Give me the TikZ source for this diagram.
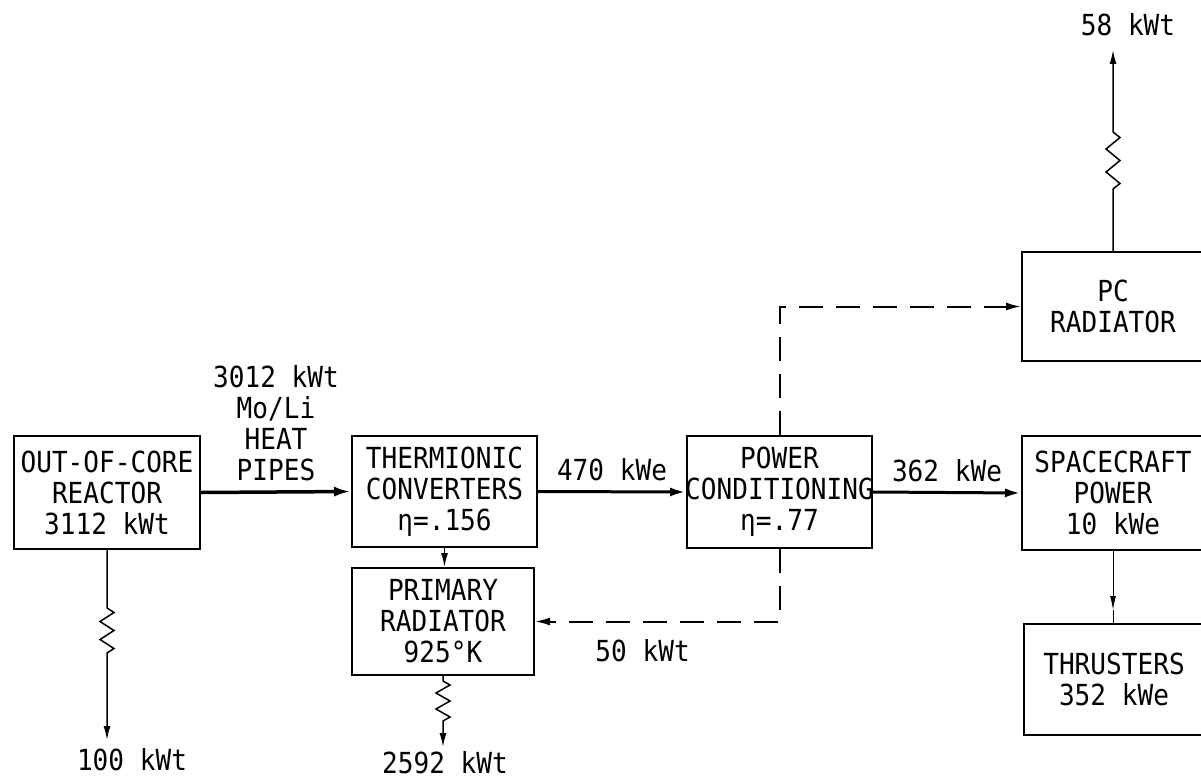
\documentclass[tikz,border=0pt]{standalone}
\usepackage{fontspec}
\newfontfamily\diagfontfamily[FakeStretch=0.9]{DejaVu Sans Mono}
\newcommand\diagfont{\diagfontfamily\fontsize{29}{31}\selectfont}
\usetikzlibrary{arrows.meta,calc}
\begin{document}
\begin{tikzpicture}[x=1pt,y=-1pt,
  blk/.style={draw,line width=2pt,inner sep=0pt,align=center,font=\diagfont},
  lbl/.style={font=\diagfont,inner sep=0pt},
  thickarrow/.style={line width=3.5pt,-{Latex[length=17pt,width=10pt]}},
  medarrow/.style={line width=3pt,-{Latex[length=16pt,width=9pt]}},
  thinarrow/.style={line width=1.5pt,-{Latex[length=14pt,width=7pt]}},
  dasharrow/.style={line width=2pt,dash pattern=on 24pt off 13pt,-{Latex[length=15pt,width=8pt]}}]
\useasboundingbox (0,0) rectangle (1201,781);
\clip (0,0) rectangle (1201,781);
% boxes
\node[blk,minimum width=186pt,minimum height=113pt] (reactor) at (107,492.5) {OUT-OF-CORE\\REACTOR\\3112 kWt};
\node[blk,minimum width=185pt,minimum height=111pt] (thermionic) at (444.5,491.5) {THERMIONIC\\CONVERTERS\\η=.156};
\node[blk,minimum width=182pt,minimum height=107pt] (primary) at (443,621.5) {PRIMARY\\RADIATOR\\925°K};
\node[blk,minimum width=185pt,minimum height=112pt] (powercond) at (779.5,492) {POWER\\\makebox[170pt]{CONDITIONING}\\η=.77};
\node[blk,minimum width=182pt,minimum height=114pt] (spacecraft) at (1113,493) {SPACECRAFT\\POWER\\10 kWe};
\node[blk,minimum width=182pt,minimum height=109pt] (pcrad) at (1113,306.5) {PC\\RADIATOR};
\node[blk,minimum width=180pt,minimum height=111pt] (thrusters) at (1114,679.5) {THRUSTERS\\352 kWe};
% free labels
\node[lbl,align=center] (hp) at (276,423) {3012 kWt\\Mo/Li\\HEAT\\PIPES};
\node[lbl] (l100) at (132,760) {100 kWt};
\node[lbl] (l2592) at (445,763) {2592 kWt};
\node[lbl] (l58) at (1128,25) {58 kWt};
% end coordinates
\coordinate (rEnd) at (107,740);
\coordinate (pEnd) at (443,747);
\coordinate (cEnd) at (1113,50);
\coordinate (tTip) at (1113,610);
% main flow
\draw[thickarrow] (reactor.east) -- (thermionic.west);
\draw[medarrow] (thermionic.east) -- node[above=9pt,lbl] {470 kWe} (powercond.west);
\draw[medarrow] (powercond.east) -- node[above=9pt,lbl] {362 kWe} (spacecraft.west);
\draw[thinarrow] (thermionic.south) -- (thermionic.south |- primary.north);
\draw[line width=1pt,-{Latex[length=14pt,width=6pt]}] (spacecraft.south) -- (tTip);
\draw[line width=1pt] (tTip) -- (spacecraft.south |- thrusters.north);
% dashed
\draw[dasharrow] (powercond.north) |- (pcrad.west);
\draw[dasharrow] (powercond.south) |- node[pos=0.78,below=17pt,lbl] {50 kWt} (primary.east);
% heat rejection with resistor symbols
\draw[thinarrow] (reactor.south) -- ++(0,58) -- ++(7,4.5) -- ++(-14,9) -- ++(14,9) -- ++(-14,9) -- ++(14,9) -- ++(-7,4.5) -- (rEnd);
\draw[thinarrow] (primary.south) -- ++(0,5) -- ++(7,4) -- ++(-14,8) -- ++(14,8) -- ++(-14,8) -- ++(14,8) -- ++(-7,4) -- (pEnd);
\draw[thinarrow] (pcrad.north) -- ++(0,-62) -- ++(7,-5.5) -- ++(-14,-11.5) -- ++(14,-11.5) -- ++(-14,-11.5) -- ++(14,-11.5) -- ++(-7,-5.5) -- (cEnd);
\end{tikzpicture}
\end{document}
